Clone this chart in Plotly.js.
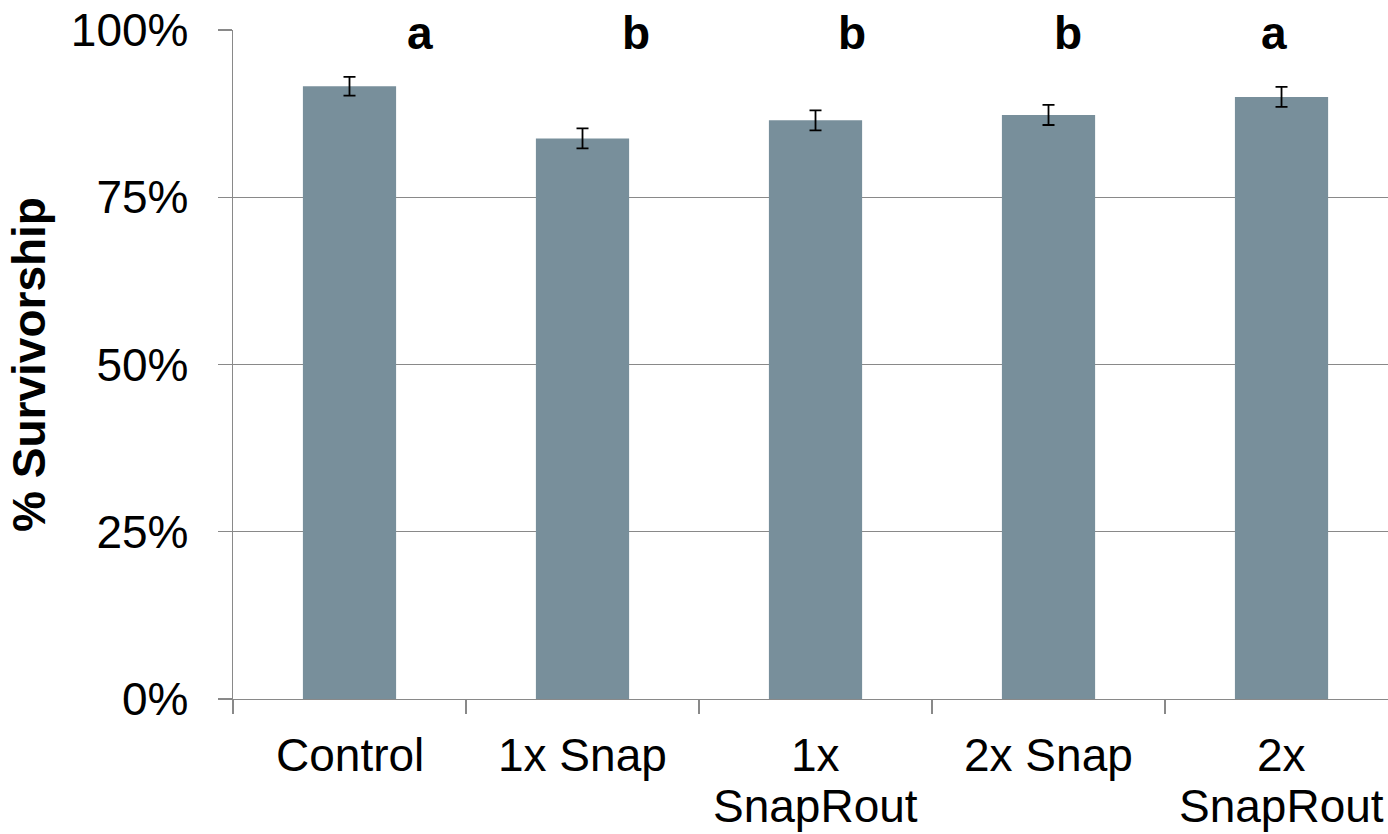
<!DOCTYPE html>
<html><head><meta charset="utf-8">
<script src="https://cdn.plot.ly/plotly-3.0.1.min.js"></script>
<style>html,body{margin:0;padding:0;overflow:hidden;background:#fff}</style>
</head><body>
<div id="chart" style="width:1388px;height:834px"></div>
<script>
const categories = ["Control", "1x Snap", "1x SnapRout", "2x Snap", "2x SnapRout"];
const tickLines = [["Control"], ["1x Snap"], ["1x", "SnapRout"], ["2x Snap"], ["2x", "SnapRout"]];
const survivorship = [0.916, 0.838, 0.865, 0.873, 0.900];
const stdError = [0.014, 0.015, 0.015, 0.015, 0.015];
const groupLetters = ["a", "b", "b", "b", "a"];
const letterOffsetPx = [70, 53, 36, 19, -8];
const yTickVals = [0, 0.25, 0.5, 0.75, 1];
const yTickText = ["0%", "25%", "50%", "75%", "100%"];

const FONT = "Liberation Sans, Arial, Helvetica, sans-serif";
const axisGray = "#898989";

const annotations = [];
categories.forEach((c, i) => {
  tickLines[i].forEach((line, j) => {
    annotations.push({
      x: c, xref: "x", y: 0, yref: "paper",
      text: line, showarrow: false,
      xanchor: "center", yanchor: "middle",
      yshift: -56 - j * 51,
      font: {family: FONT, size: 46, color: "#000"}
    });
  });
  annotations.push({
    x: c, xref: "x", y: 1, yref: "paper",
    text: groupLetters[i], showarrow: false,
    xanchor: "center", yanchor: "middle",
    xshift: letterOffsetPx[i], yshift: -3,
    font: {family: FONT, size: 46, color: "#000", weight: 700}
  });
});

const trace = {
  type: "bar",
  x: categories,
  y: survivorship,
  width: 0.4,
  marker: {color: "#788F9B"},
  error_y: {type: "data", array: stdError, visible: true, color: "#000", thickness: 1.8, width: 6},
  hoverinfo: "skip"
};

const layout = {
  width: 1388, height: 834,
  margin: {l: 233, r: 0, t: 30, b: 135, pad: 0},
  paper_bgcolor: "#fff", plot_bgcolor: "#fff",
  showlegend: false,
  font: {family: FONT, size: 46, color: "#000"},
  xaxis: {
    type: "category", range: [-0.5, 4.457],
    tickson: "boundaries", ticks: "outside", ticklen: 14, tickwidth: 1.3, tickcolor: axisGray,
    showticklabels: false, showgrid: false, zeroline: false,
    showline: true, linecolor: axisGray, linewidth: 1.3
  },
  yaxis: {
    range: [0, 1], tickvals: yTickVals, ticktext: yTickText,
    ticks: "outside", ticklen: 14, tickwidth: 1.3, tickcolor: axisGray,
    ticklabelstandoff: 20, automargin: true,
    tickfont: {family: FONT, size: 46, color: "#000"},
    showgrid: true, gridcolor: axisGray, gridwidth: 1.3, zeroline: false,
    showline: true, linecolor: axisGray, linewidth: 1.3,
    title: {text: "% Survivorship", font: {family: FONT, size: 46, color: "#000", weight: 700}, standoff: 10}
  },
  annotations: annotations
};

Plotly.newPlot("chart", [trace], layout, {displayModeBar: false, staticPlot: true});
</script>
</body></html>
